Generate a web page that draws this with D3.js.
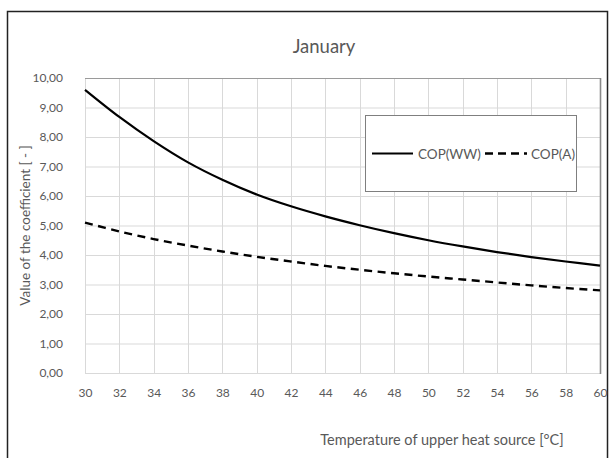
<!DOCTYPE html>
<html><head><meta charset="utf-8">
<script src="https://cdn.jsdelivr.net/npm/d3@7"></script>
<style>
body{margin:0;background:#fff;}
text{font-family:Lato,"Open Sans",sans-serif;}
</style></head>
<body><svg id="c" width="610" height="458"></svg>
<script>
const temps = [30,32,34,36,38,40,42,44,46,48,50,52,54,56,58,60];
const copWW = [9.60,8.68,7.86,7.14,6.55,6.05,5.65,5.31,5.01,4.74,4.50,4.29,4.10,3.93,3.78,3.64];
const copA  = [5.10,4.80,4.54,4.32,4.12,3.94,3.78,3.63,3.50,3.38,3.27,3.17,3.07,2.97,2.88,2.80];
const yTicks = [0,1,2,3,4,5,6,7,8,9,10];
const xTicks = [30,32,34,36,38,40,42,44,46,48,50,52,54,56,58,60];
const seriesNames = ["COP(WW)","COP(A)"];
const title = "January";
const xTitle = "Temperature of upper heat source [°C]";
const yTitle = "Value of the coefficient [ - ]";

const svg = d3.select("#c");
const L=85, R=600, T=78, B=373;
const x = d3.scaleLinear().domain([30,60]).range([L,R]);
const y = d3.scaleLinear().domain([0,10]).range([B,T]);
const fmt = d => d3.format(".2f")(d).replace(".", ",");

// outer border
svg.append("rect").attr("x",7.5).attr("y",11.5).attr("width",600).attr("height",460)
  .attr("fill","none").attr("stroke","#222").attr("stroke-width",1.5);

// gridlines
svg.append("g").selectAll("line").data(yTicks).join("line")
  .attr("x1",L).attr("x2",R).attr("y1",d=>y(d)+0.5).attr("y2",d=>y(d)+0.5)
  .attr("stroke","#d9d9d9").attr("stroke-width",1);
svg.append("g").selectAll("line").data(xTicks).join("line")
  .attr("x1",d=>Math.round(x(d))+0.5).attr("x2",d=>Math.round(x(d))+0.5).attr("y1",T).attr("y2",B)
  .attr("stroke","#d9d9d9").attr("stroke-width",1);
// plot border top/right
svg.append("line").attr("x1",L).attr("x2",R).attr("y1",T+0.5).attr("y2",T+0.5).attr("stroke","#9a9a9a").attr("stroke-width",1.2);
svg.append("line").attr("x1",R+0.5).attr("x2",R+0.5).attr("y1",T).attr("y2",B+1).attr("stroke","#8a8a8a").attr("stroke-width",1.6);

// axes labels via d3 axes
const yAxis = svg.append("g").attr("transform",`translate(${L},0)`)
  .call(d3.axisLeft(y).tickValues(yTicks).tickFormat(fmt).tickSize(0).tickPadding(22));
yAxis.select(".domain").remove();
yAxis.selectAll("text").attr("font-size",12).attr("fill","#595959").attr("font-family","Lato,'Open Sans',sans-serif");

const xAxis = svg.append("g").attr("transform",`translate(0,${B})`)
  .call(d3.axisBottom(x).tickValues(xTicks).tickFormat(d3.format("d")).tickSize(0).tickPadding(15));
xAxis.select(".domain").remove();
xAxis.selectAll("text").attr("font-size",12).attr("fill","#595959").attr("font-family","Lato,'Open Sans',sans-serif");

// lines
const line = d3.line().x((d,i)=>x(temps[i])).y(d=>y(d)).curve(d3.curveCatmullRom);
svg.append("path").datum(copWW).attr("d",line).attr("fill","none").attr("stroke","#000").attr("stroke-width",2.2);
svg.append("path").datum(copA).attr("d",line).attr("fill","none").attr("stroke","#000").attr("stroke-width",2.4)
  .attr("stroke-dasharray","8,5.5");

// legend
const lg = svg.append("g");
lg.append("rect").attr("x",365.5).attr("y",115.5).attr("width",211).attr("height",76)
  .attr("fill","#fff").attr("stroke","#7f7f7f").attr("stroke-width",1);
const ly = 153.5;
lg.append("line").attr("x1",372).attr("x2",413).attr("y1",ly).attr("y2",ly).attr("stroke","#000").attr("stroke-width",2.2);
lg.append("text").attr("x",418).attr("y",ly+5).attr("font-size",13.5).attr("fill","#595959").text(seriesNames[0]);
lg.append("line").attr("x1",485).attr("x2",527).attr("y1",ly).attr("y2",ly).attr("stroke","#000").attr("stroke-width",2.4).attr("stroke-dasharray","8,5");
lg.append("text").attr("x",531).attr("y",ly+5).attr("font-size",13.5).attr("fill","#595959").text(seriesNames[1]);

// titles
svg.append("text").attr("x",324).attr("y",53).attr("text-anchor","middle").attr("font-size",18.5).attr("fill","#595959").text(title);
svg.append("text").attr("x",442).attr("y",445).attr("text-anchor","middle").attr("font-size",14.5).attr("fill","#595959").text(xTitle);
svg.append("text").attr("transform",`translate(30,${(T+B)/2}) rotate(-90)`).attr("text-anchor","middle").attr("font-size",13.5).attr("fill","#595959").text(yTitle);
</script></body></html>
